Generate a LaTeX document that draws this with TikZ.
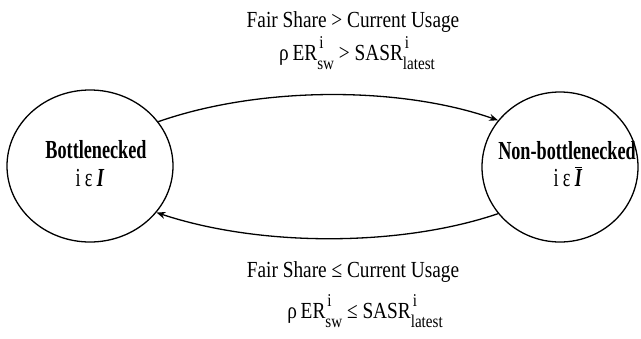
\documentclass[tikz,border=0pt]{standalone}
\usepackage{fontspec}
\usetikzlibrary{shapes.geometric,arrows.meta}
\newfontfamily\lblfont[FakeStretch=0.84]{Liberation Serif}
\newfontfamily\statefont[FakeStretch=0.70]{Liberation Serif}
\newcommand\supsub[3][0pt]{\makebox[0pt][l]{\hspace*{#1}\raisebox{0.5em}{\fontsize{18}{18}\selectfont #2}}\raisebox{-0.42em}{\fontsize{18}{18}\selectfont #3}}
\tikzset{
  statebox/.style={draw, line width=1.3pt, ellipse, inner sep=0pt, align=center},
  lbl/.style={inner sep=0pt, font=\lblfont\fontsize{23}{28}\selectfont},
  trans/.style={line width=1.3pt, -{Stealth[length=9pt,width=7pt]}},
}
\begin{document}
\begin{tikzpicture}[x=1pt,y=-1pt]
\useasboundingbox (0,0) rectangle (641,338);
\node[statebox, minimum width=166pt, minimum height=152pt] (L) at (90,166) {};
\node[statebox, minimum width=156pt, minimum height=150pt] (R) at (560,167) {};
\node[inner sep=0pt, anchor=base, font=\statefont\bfseries\fontsize{26}{26}\selectfont] (Lt) at (96,158) {Bottlenecked};
\node[inner sep=0pt, anchor=base, font=\statefont\fontsize{26}{26}\selectfont] (Li) at (90,186) {i\,ε\,\textbf{\itshape I}};
\node[inner sep=0pt, anchor=base, font=\statefont\bfseries\fontsize{26}{26}\selectfont] (Rt) at (567,159) {Non-bottlenecked};
\node[inner sep=0pt, anchor=base, font=\statefont\fontsize{26}{26}\selectfont] (Ri) at (568,186) {i\,ε\,$\overline{\mbox{\textbf{\itshape I}}}$};
\draw[trans] (L.33) .. controls (260,86) and (400,86) .. (R.143);
\draw[trans] (R.217) .. controls (400,247) and (260,247) .. (L.325);
\node[lbl, anchor=base] (t1) at (353,27) {Fair Share > Current Usage};
\node[lbl, anchor=base] (t2) at (357,60) {ρ\,ER\supsub[2pt]{i}{sw} > SASR\supsub[2pt]{i}{latest}};
\node[lbl, anchor=base] (b1) at (353,277) {Fair Share ≤ Current Usage};
\node[lbl, anchor=base] (b2) at (365,318) {ρ\,ER\supsub[2pt]{i}{sw} ≤ SASR\supsub[2pt]{i}{latest}};
\end{tikzpicture}
\end{document}
